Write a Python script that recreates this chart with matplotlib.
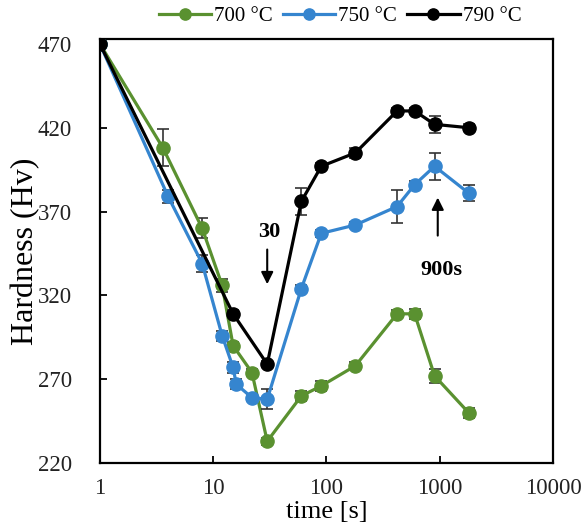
import numpy as np
import matplotlib.pyplot as plt

plt.rcParams['font.family'] = ['Liberation Serif', 'DejaVu Serif']

# 700 °C
t700 = [1, 3.6, 8, 12, 15, 22, 30, 60, 90, 180, 420, 600, 900, 1800]
h700 = [470, 408, 360, 326, 290, 274, 233, 260, 266, 278, 309, 309, 272, 250]
e700 = [0, 11, 6, 4, 2, 2, 2, 3, 3, 2, 2, 3, 4, 3]

# 750 °C
t750 = [1, 4, 8, 12, 15, 16, 22, 30, 60, 90, 180, 420, 600, 900, 1800]
h750 = [470, 379, 339, 296, 277, 267, 259, 258, 324, 357, 362, 373, 386, 397, 381]
e750 = [0, 4, 5, 3, 3, 3, 2, 6, 2, 2, 2, 10, 2, 8, 5]

# 790 °C
t790 = [1, 15, 30, 60, 90, 180, 420, 600, 900, 1800]
h790 = [470, 309, 279, 376, 397, 405, 430, 430, 422, 420]
e790 = [0, 2, 2, 8, 2, 3, 2, 2, 5, 2]

labels = ['700 °C', '750 °C', '790 °C']
colors = ['#5a9130', '#3585cf', '#000000']

fig = plt.figure(figsize=(5.84, 5.25), dpi=100)
ax = fig.add_axes([0.171, 0.118, 0.776, 0.808])

series = [(t700, h700, e700), (t750, h750, e750), (t790, h790, e790)]
for i, (t, h, e) in enumerate(series):
    ax.errorbar(t, h, yerr=e, fmt='none', ecolor='#333333', elinewidth=1.2,
                capsize=4, capthick=1.2, zorder=2 + i)
    ax.plot(t, h, '-o', color=colors[i], lw=2.3, ms=9.5, label=labels[i],
            zorder=3 + i)

ax.set_xscale('log')
ax.set_xlim(1, 10000)
ax.set_ylim(220, 473)
ax.set_xticks([1, 10, 100, 1000, 10000])
ax.set_xticklabels(['1', '10', '100', '1000', '10000'])
ax.set_yticks([220, 270, 320, 370, 420, 470])
ax.minorticks_off()
ax.tick_params(direction='in', length=5, width=1.3, labelsize=16.5,
               labelcolor='#222222')
ax.tick_params(axis='y', pad=20)
ax.tick_params(axis='x', pad=11)
for s in ax.spines.values():
    s.set_linewidth(1.6)

ax.set_xlabel('time [s]', fontsize=19, labelpad=1)
ax.set_ylabel('Hardness (Hv)', fontsize=23, labelpad=-2)

ax.annotate('', xy=(30, 325), xytext=(30, 349),
            arrowprops=dict(arrowstyle='-|>', color='black', lw=1.5,
                            mutation_scale=18))
ax.text(31, 358, '30', fontsize=16, fontweight='bold', ha='center', va='center')
ax.annotate('', xy=(960, 380), xytext=(960, 354),
            arrowprops=dict(arrowstyle='-|>', color='black', lw=1.5,
                            mutation_scale=18))
ax.text(1040, 335, '900s', fontsize=16, fontweight='bold', ha='center', va='center')

ax.legend(loc='lower center', bbox_to_anchor=(0.53, 1.005), ncol=3, frameon=False,
          fontsize=15, handlelength=2.5, handletextpad=0.15, columnspacing=0.5,
          borderpad=0.0, markerscale=0.85)

fig.savefig('out.png', dpi=100)
